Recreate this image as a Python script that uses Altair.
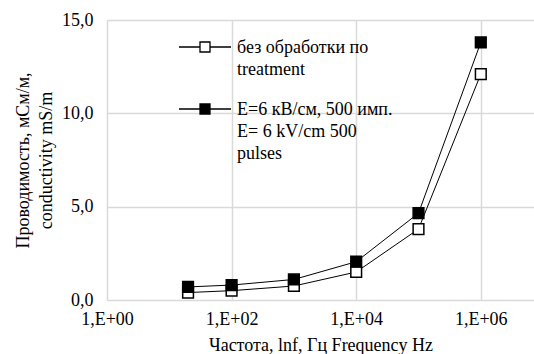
import altair as alt
import pandas as pd

freq = [20, 100, 1000, 10000, 100000, 1000000]
no_treat = [0.4, 0.5, 0.75, 1.5, 3.8, 12.1]
treated = [0.7, 0.8, 1.1, 2.05, 4.65, 13.8]
series_names = ["без обработки по|treatment", "E=6 кВ/см, 500 имп.|E= 6 kV/cm 500|pulses"]
x_ticks = [1, 100, 10000, 1000000]
y_ticks = [0, 5, 10, 15]

rows = []
for f, v in zip(freq, no_treat):
    rows.append({"f": f, "v": v, "s": series_names[0]})
for f, v in zip(freq, treated):
    rows.append({"f": f, "v": v, "s": series_names[1]})
df = pd.DataFrame(rows)

FONT = "Liberation Serif, Times New Roman, serif"
# legend glyph: line - square - line (units of 5 px), shifted down to match first text line
sym_path = ("M-5.2,1.6L-1,1.6M1,1.6L5.2,1.6"
            "M-1,0.6L1,0.6L1,2.6L-1,2.6Z")

x = alt.X("f:Q", scale=alt.Scale(type="log", domain=[1, 10 ** 6.854], nice=False),
          axis=alt.Axis(values=x_ticks, title="Частота, lnf, Гц Frequency Hz",
                        labelExpr="'1,E+0' + round(log(datum.value)/LN10)",
                        grid=True, ticks=False, domain=False, labelPadding=10,
                        labelFlush=False, labelOverlap=False, titlePadding=8))
y = alt.Y("v:Q", scale=alt.Scale(domain=[0, 15], nice=False),
          axis=alt.Axis(values=y_ticks, title=["Проводимость, мСм/м,", "conductivity mS/m"],
                        labelExpr="replace(format(datum.value, '.1f'), '.', ',')",
                        grid=True, ticks=False, domain=False, labelPadding=14,
                        labelFlush=False, titlePadding=6, titleLineHeight=23))

lines = alt.Chart(df).mark_line(color="black", strokeWidth=1).encode(
    x=x, y=y, detail="s:N")
points = alt.Chart(df).mark_point(shape="square", filled=True, size=115,
                                   stroke="black", strokeWidth=1.5, opacity=1).encode(
    x=x, y=y,
    fill=alt.Fill("s:N", scale=alt.Scale(domain=series_names, range=["white", "black"]),
                  legend=alt.Legend(title=None, orient="none", legendX=89, legendY=10,
                                    symbolType=sym_path, symbolSize=100,
                                    symbolStrokeColor="black", symbolStrokeWidth=1.3,
                                    labelExpr="split(datum.label, '|')",
                                    labelFont=FONT, labelFontSize=18, labelColor="black",
                                    labelBaseline="top", labelOffset=23, rowPadding=13,
                                    labelLimit=400, padding=0)))

chart = alt.layer(lines, points).properties(
    width=427, height=280,
    autosize=alt.AutoSizeParams(type="none"),
    padding={"left": 107, "top": 20, "right": 0, "bottom": 54},
    background="white",
).configure(
    style={"guide-label": {"lineHeight": 22}},
    view=alt.ViewConfig(stroke=None),
    axis=alt.AxisConfig(
        labelFont=FONT, titleFont=FONT, labelFontSize=18, titleFontSize=18,
        labelColor="black", titleColor="black", titleFontWeight="normal",
        gridColor="#d9d9d9", gridWidth=1.5,
    ),
)

chart.save("out.html", embed_options={"renderer": "svg", "actions": False})
